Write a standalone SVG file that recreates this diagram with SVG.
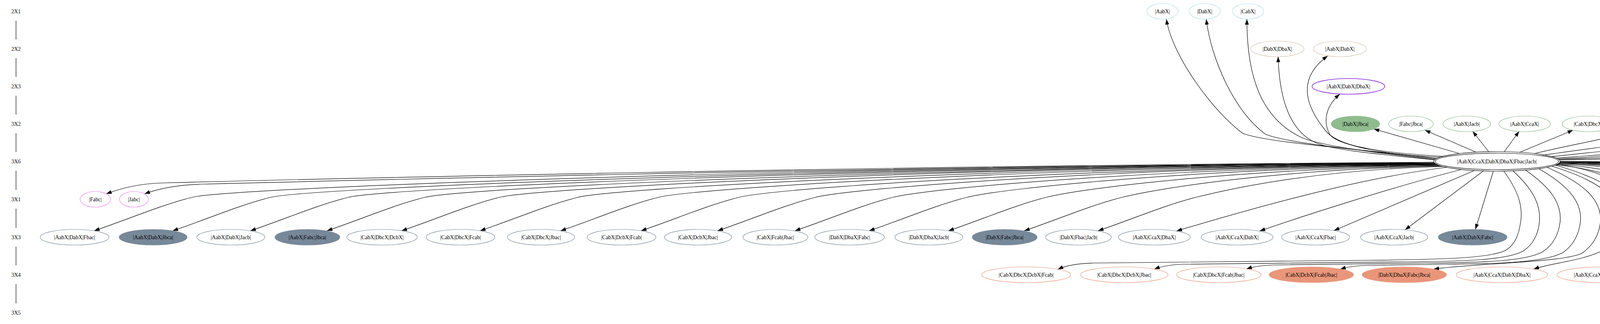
<svg xmlns="http://www.w3.org/2000/svg" width="7445" height="829" viewBox="0 0 7445 829">
<style>
text{font-family:"Liberation Serif","Times New Roman",serif;font-size:14px;text-anchor:middle;fill:#000}
.e{fill:none;stroke-width:1.2}
.pt{stroke:#b0e0e6}
.tn{stroke:#d2c1ad}
.pu{stroke:#8a2be2;stroke-width:1.6}
.g{stroke:#8fbc8f}
.gf{fill:#8fbc8f;stroke:#8fbc8f}
.v{stroke:#ee82ee}
.s{stroke:#778899}
.sf{fill:#778899;stroke:#778899}
.o{stroke:#e9967a}
.of{fill:#e9967a;stroke:#e9967a}
.k{stroke:#f0e68c}
.kf{fill:#f0e68c;stroke:#f0e68c}
.c{stroke:#000}
#edges path{fill:none;stroke:#000;stroke-width:1.2;marker-end:url(#arr)}
#ranks line{stroke:#000;stroke-width:1.2}
</style>
<defs>
<marker id="arr" markerUnits="userSpaceOnUse" markerWidth="14" markerHeight="10" refX="14" refY="5" orient="auto"><path d="M0,0 L14,5 L0,10 z" fill="#000"/></marker>
</defs>
<rect width="7445" height="829" fill="#fff"/>
<g id="ranks">
<text x="41" y="34">2X1</text>
<text x="41" y="130">2X2</text>
<text x="41" y="226">2X3</text>
<text x="41" y="322">3X2</text>
<text x="41" y="418">3X6</text>
<text x="41" y="515">3X1</text>
<text x="41" y="612">3X3</text>
<text x="41" y="708">3X4</text>
<text x="41" y="805">3X5</text>
<line x1="41" y1="53" x2="41" y2="101"/>
<line x1="41" y1="149" x2="41" y2="197"/>
<line x1="41" y1="245" x2="41" y2="293"/>
<line x1="41" y1="341" x2="41" y2="389"/>
<line x1="41" y1="437" x2="41" y2="486"/>
<line x1="41" y1="534" x2="41" y2="583"/>
<line x1="41" y1="631" x2="41" y2="679"/>
<line x1="41" y1="727" x2="41" y2="776"/>
</g>
<g id="edges">
<path d="M3678,405 C3480,381 3240,365 3181,341 C3100,280 3000,140 2986,49"/>
<path d="M3676,406 C3500,386 3290,366 3239,343 C3160,286 3100,150 3088,49"/>
<path d="M3674,408 C3520,391 3380,373 3330,351 C3230,302 3192,200 3192,49"/>
<path d="M3672,409 C3550,396 3420,386 3370,366 C3300,336 3275,250 3272,145"/>
<path d="M3686,402 C3560,396 3430,378 3395,336 C3340,270 3320,200 3399,143"/>
<path d="M3695,400 C3550,392 3430,375 3405,345 C3385,310 3395,270 3430,241"/>
<path d="M3737,393 L3517,330"/>
<path d="M3778,389 L3648,333"/>
<path d="M3811,388 L3770,336"/>
<path d="M3851,388 L3889,336"/>
<path d="M3890,390 L4027,333"/>
<path d="M3928,393 C4020,370 4120,355 4186,333"/>
<path d="M3950,397 C4100,375 4250,360 4341,333"/>
<path d="M3972,401 C4180,378 4380,362 4492,333"/>
<path d="M3984,404.5 C4250,385 4500,368 4640,333"/>
<path d="M3988,406.5 C4300,390 4620,372 4794,333"/>
<path d="M3991,408 C4380,395 4760,378 4944,333"/>
<path d="M3993,409.5 C4450,400 4900,385 5095,333"/>
<path d="M3671,415 C2200,425 800,458 420,468 C350,470 310,482 272,496"/>
<path d="M3671,416 C2200,427 900,462 520,471 C450,473 405,483 370,496"/>
<path d="M3672,417 C2082,425 591,480 491,505 C411,525 326,562 241,590.5"/>
<path d="M3673,418 C2183,426 792,480 692,505 C612,525 527,562 442,590.5"/>
<path d="M3674,418 C2282,426 991,480 891,505 C811,525 726,562 641,590.5"/>
<path d="M3675,419 C2381,427 1187,480 1087,505 C1007,525 922,562 837,590.5"/>
<path d="M3676,419 C2477,427 1378,480 1278,505 C1198,525 1113,562 1028,590.5"/>
<path d="M3677,420 C2578,428 1579,480 1479,505 C1399,525 1314,562 1229,590.5"/>
<path d="M3678,420 C2682,428 1785,480 1685,505 C1605,525 1520,562 1435,590.5"/>
<path d="M3679,421 C2785,429 1991,480 1891,505 C1811,525 1726,562 1641,590.5"/>
<path d="M3680,421 C2884,429 2187,480 2087,505 C2007,525 1922,562 1837,590.5"/>
<path d="M3682,422 C2984,430 2385,480 2285,505 C2205,525 2120,562 2035,590.5"/>
<path d="M3684,423 C3080,431 2575,480 2475,505 C2395,525 2310,562 2225,590.5"/>
<path d="M3687,424 C3183,432 2778,480 2678,505 C2598,525 2513,562 2428,590.5"/>
<path d="M3690,425 C3281,433 2972,480 2872,505 C2792,525 2707,562 2622,590.5"/>
<path d="M3694,426 C3378,434 3161,480 3061,505 C2981,525 2896,562 2811,590.5"/>
<path d="M3705,428 C3480,455 3200,535 3012,591"/>
<path d="M3740,434 C3560,480 3320,558 3225,591"/>
<path d="M3775,436 L3415,590"/>
<path d="M3798,437 L3597,588"/>
<path d="M3823,438 L3777,587"/>
<path d="M3850,438 C3880,480 3900,520 3893,567 C3888,600 3880,625 3855,640 C3820,660 3700,664 3500,666 L2800,673 C2760,674 2730,679 2708,689"/>
<path d="M3873,437 C3920,480 3945,520 3941,567 C3938,600 3925,625 3900,642 C3860,665 3750,669 3600,670 L3030,676 C3000,677 2975,681 2955,688.5"/>
<path d="M3905,435 C3970,480 3998,520 3994,567 C3990,600 3975,628 3948,645 C3905,668 3800,672 3650,673 L3260,678 C3230,679 3210,682 3191,688"/>
<path d="M3940,432 C4020,478 4050,520 4046,567 C4042,600 4028,628 4000,647 C3955,670 3850,675 3700,676 L3500,679 C3470,680 3450,683 3431,688.5"/>
<path d="M3960,428 C4070,475 4100,520 4097,567 C4094,600 4078,628 4050,648 C4000,672 3780,673 3670,688.6"/>
<path d="M3972,425 C4120,470 4150,520 4147,567 C4144,600 4130,625 4105,640 C4050,668 3975,672 3926,688.5"/>
<path d="M3980,422 C4150,470 4175,520 4171,567 C4168,610 4150,650 4124,683.5"/>
<path d="M3985,420 C4200,450 4290,560 4340,683"/>
<path d="M3982,422 C4200,440 4430,575 4567,683.8"/>
<path d="M3985,421 C4250,432 4602,588 4802,684.7"/>
<path d="M3988,419.5 C4350,428 4784,589 5034,686"/>
<path d="M3990,418.5 C4450,425 4973,593 5273,686"/>
<path d="M3991,418 C4550,423 5168,592 5518,687"/>
<path d="M3992,417 C4650,422 5361,590 5761,688"/>
<path d="M3993,416 C4750,421 5544,589 5994,689"/>
<path d="M3994,413 C4900,415 5950,480 6150,640 C6210,690 6215,720 6170,742 C6100,768 5990,776 5939,785"/>
<path d="M3994,414 C5000,418 5980,470 6160,600 C6230,650 6225,730 6181,780.7"/>
<path d="M3994,414.5 C5100,425 6250,580 6412,780.4"/>
<path d="M3994,415 C5200,425 6400,630 6678,781.4"/>
<path d="M3994,414 C5300,425 6640,630 6964,781.7"/>
<path d="M3994,413.5 C5400,424 6735,649 7235,783"/>
</g>
<g id="AabX"><ellipse class="e pt" cx="2976" cy="29" rx="40" ry="20"/><text x="2976" y="34">|AabX|</text></g>
<g id="DabX"><ellipse class="e pt" cx="3084" cy="29" rx="40" ry="20"/><text x="3084" y="34">|DabX|</text></g>
<g id="CabX"><ellipse class="e pt" cx="3195" cy="29" rx="40" ry="20"/><text x="3195" y="34">|CabX|</text></g>
<g id="DabX_DbaX"><ellipse class="e tn" cx="3270" cy="125" rx="68" ry="20"/><text x="3270" y="130">|DabX|DbaX|</text></g>
<g id="AabX_DabX"><ellipse class="e tn" cx="3430" cy="125" rx="68" ry="20"/><text x="3430" y="130">|AabX|DabX|</text></g>
<g id="AabX_DabX_DbaX"><ellipse class="e pu" cx="3452" cy="221" rx="93" ry="20"/><text x="3452" y="226">|AabX|DabX|DbaX|</text></g>
<g id="DabX_Jbca"><ellipse class="e gf" cx="3470" cy="317" rx="62" ry="20"/><text x="3470" y="322">|DabX|Jbca|</text></g>
<g id="Fabc_Jbca"><ellipse class="e g" cx="3612" cy="317" rx="57" ry="20"/><text x="3612" y="322">|Fabc|Jbca|</text></g>
<g id="AabX_Jacb"><ellipse class="e g" cx="3755" cy="317" rx="61" ry="20"/><text x="3755" y="322">|AabX|Jacb|</text></g>
<g id="AabX_CcaX"><ellipse class="e g" cx="3903" cy="317" rx="66" ry="20"/><text x="3903" y="322">|AabX|CcaX|</text></g>
<g id="CabX_DbcX"><ellipse class="e g" cx="4066" cy="317" rx="67" ry="20"/><text x="4066" y="322">|CabX|DbcX|</text></g>
<g id="CabX_DcbX"><ellipse class="e g" cx="4226" cy="317" rx="67" ry="20"/><text x="4226" y="322">|CabX|DcbX|</text></g>
<g id="CabX_Fcab"><ellipse class="e g" cx="4378" cy="317" rx="62" ry="20"/><text x="4378" y="322">|CabX|Fcab|</text></g>
<g id="CabX_Jbac"><ellipse class="e g" cx="4529" cy="317" rx="61" ry="20"/><text x="4529" y="322">|CabX|Jbac|</text></g>
<g id="DabX_Fabc"><ellipse class="e g" cx="4678" cy="317" rx="63" ry="20"/><text x="4678" y="322">|DabX|Fabc|</text></g>
<g id="DabX_Fbac"><ellipse class="e g" cx="4832" cy="317" rx="63" ry="20"/><text x="4832" y="322">|DabX|Fbac|</text></g>
<g id="AabX_Fabc"><ellipse class="e g" cx="4982" cy="317" rx="63" ry="20"/><text x="4982" y="322">|AabX|Fabc|</text></g>
<g id="DabX_Jacb"><ellipse class="e g" cx="5132" cy="317" rx="62" ry="20"/><text x="5132" y="322">|DabX|Jacb|</text></g>
<g id="AabX_CcaX_DabX_DbaX_Fbac_Jacb"><ellipse class="e c" cx="3832" cy="413" rx="162" ry="25"/><ellipse class="e c" cx="3832" cy="413" rx="158" ry="21"/><text x="3832" y="418">|AabX|CcaX|DabX|DbaX|Fbac|Jacb|</text></g>
<g id="Fabc"><ellipse class="e v" cx="244" cy="510" rx="39" ry="20"/><text x="244" y="515">|Fabc|</text></g>
<g id="Jabc"><ellipse class="e v" cx="343" cy="510" rx="37" ry="20"/><text x="343" y="515">|Jabc|</text></g>
<g id="AabX_DabX_Fbac"><ellipse class="e s" cx="191" cy="607" rx="88" ry="20"/><text x="191" y="612">|AabX|DabX|Fbac|</text></g>
<g id="AabX_DabX_Jbca"><ellipse class="e sf" cx="392" cy="607" rx="87" ry="20"/><text x="392" y="612">|AabX|DabX|Jbca|</text></g>
<g id="AabX_DabX_Jacb"><ellipse class="e s" cx="591" cy="607" rx="87" ry="20"/><text x="591" y="612">|AabX|DabX|Jacb|</text></g>
<g id="AabX_Fabc_Jbca"><ellipse class="e sf" cx="787" cy="607" rx="83" ry="20"/><text x="787" y="612">|AabX|Fabc|Jbca|</text></g>
<g id="CabX_DbcX_DcbX"><ellipse class="e s" cx="978" cy="607" rx="90" ry="20"/><text x="978" y="612">|CabX|DbcX|DcbX|</text></g>
<g id="CabX_DbcX_Fcab"><ellipse class="e s" cx="1179" cy="607" rx="88" ry="20"/><text x="1179" y="612">|CabX|DbcX|Fcab|</text></g>
<g id="CabX_DbcX_Jbac"><ellipse class="e s" cx="1385" cy="607" rx="86" ry="20"/><text x="1385" y="612">|CabX|DbcX|Jbac|</text></g>
<g id="CabX_DcbX_Fcab"><ellipse class="e s" cx="1591" cy="607" rx="88" ry="20"/><text x="1591" y="612">|CabX|DcbX|Fcab|</text></g>
<g id="CabX_DcbX_Jbac"><ellipse class="e s" cx="1787" cy="607" rx="86" ry="20"/><text x="1787" y="612">|CabX|DcbX|Jbac|</text></g>
<g id="CabX_Fcab_Jbac"><ellipse class="e s" cx="1985" cy="607" rx="83" ry="20"/><text x="1985" y="612">|CabX|Fcab|Jbac|</text></g>
<g id="DabX_DbaX_Fabc"><ellipse class="e s" cx="2175" cy="607" rx="89" ry="20"/><text x="2175" y="612">|DabX|DbaX|Fabc|</text></g>
<g id="DabX_DbaX_Jacb"><ellipse class="e s" cx="2378" cy="607" rx="87" ry="20"/><text x="2378" y="612">|DabX|DbaX|Jacb|</text></g>
<g id="DabX_Fabc_Jbca"><ellipse class="e sf" cx="2572" cy="607" rx="83" ry="20"/><text x="2572" y="612">|DabX|Fabc|Jbca|</text></g>
<g id="DabX_Fbac_Jacb"><ellipse class="e s" cx="2761" cy="607" rx="84" ry="20"/><text x="2761" y="612">|DabX|Fbac|Jacb|</text></g>
<g id="AabX_CcaX_DbaX"><ellipse class="e s" cx="2955" cy="607" rx="92" ry="20"/><text x="2955" y="612">|AabX|CcaX|DbaX|</text></g>
<g id="AabX_CcaX_DabX"><ellipse class="e s" cx="3167" cy="607" rx="92" ry="20"/><text x="3167" y="612">|AabX|CcaX|DabX|</text></g>
<g id="AabX_CcaX_Fbac"><ellipse class="e s" cx="3368" cy="607" rx="87" ry="20"/><text x="3368" y="612">|AabX|CcaX|Fbac|</text></g>
<g id="AabX_CcaX_Jacb"><ellipse class="e s" cx="3569" cy="607" rx="86" ry="20"/><text x="3569" y="612">|AabX|CcaX|Jacb|</text></g>
<g id="AabX_DabX_Fabc"><ellipse class="e sf" cx="3770" cy="607" rx="88" ry="20"/><text x="3770" y="612">|AabX|DabX|Fabc|</text></g>
<g id="CabX_DbcX_DcbX_Fcab"><ellipse class="e o" cx="2627" cy="703" rx="114" ry="20"/><text x="2627" y="708">|CabX|DbcX|DcbX|Fcab|</text></g>
<g id="CabX_DbcX_DcbX_Jbac"><ellipse class="e o" cx="2878" cy="703" rx="112" ry="20"/><text x="2878" y="708">|CabX|DbcX|DcbX|Jbac|</text></g>
<g id="CabX_DbcX_Fcab_Jbac"><ellipse class="e o" cx="3120" cy="703" rx="108" ry="20"/><text x="3120" y="708">|CabX|DbcX|Fcab|Jbac|</text></g>
<g id="CabX_DcbX_Fcab_Jbac"><ellipse class="e of" cx="3357" cy="703" rx="108" ry="20"/><text x="3357" y="708">|CabX|DcbX|Fcab|Jbac|</text></g>
<g id="DabX_DbaX_Fabc_Jbca"><ellipse class="e of" cx="3595" cy="703" rx="108" ry="20"/><text x="3595" y="708">|DabX|DbaX|Fabc|Jbca|</text></g>
<g id="AabX_CcaX_DabX_DbaX"><ellipse class="e o" cx="3845" cy="703" rx="117" ry="20"/><text x="3845" y="708">|AabX|CcaX|DabX|DbaX|</text></g>
<g id="AabX_CcaX_DbaX_Fbac"><ellipse class="e o" cx="4099" cy="703" rx="113" ry="20"/><text x="4099" y="708">|AabX|CcaX|DbaX|Fbac|</text></g>
<g id="AabX_CcaX_DbaX_Jacb"><ellipse class="e o" cx="4349" cy="703" rx="112" ry="20"/><text x="4349" y="708">|AabX|CcaX|DbaX|Jacb|</text></g>
<g id="AabX_CcaX_DabX_Fbac"><ellipse class="e o" cx="4599" cy="703" rx="113" ry="20"/><text x="4599" y="708">|AabX|CcaX|DabX|Fbac|</text></g>
<g id="AabX_CcaX_DabX_Jacb"><ellipse class="e o" cx="4847" cy="703" rx="112" ry="20"/><text x="4847" y="708">|AabX|CcaX|DabX|Jacb|</text></g>
<g id="AabX_CcaX_Fbac_Jacb"><ellipse class="e o" cx="5091" cy="703" rx="107" ry="20"/><text x="5091" y="708">|AabX|CcaX|Fbac|Jacb|</text></g>
<g id="AabX_DabX_DbaX_Fabc"><ellipse class="e o" cx="5336" cy="703" rx="115" ry="20"/><text x="5336" y="708">|AabX|DabX|DbaX|Fabc|</text></g>
<g id="AabX_DabX_DbaX_Jacb"><ellipse class="e o" cx="5587" cy="703" rx="113" ry="20"/><text x="5587" y="708">|AabX|DabX|DbaX|Jacb|</text></g>
<g id="AabX_DabX_Fabc_Jbca"><ellipse class="e of" cx="5833" cy="703" rx="108" ry="20"/><text x="5833" y="708">|AabX|DabX|Fabc|Jbca|</text></g>
<g id="AabX_DabX_Fbac_Jacb"><ellipse class="e of" cx="6072" cy="703" rx="108" ry="20"/><text x="6072" y="708">|AabX|DabX|Fbac|Jacb|</text></g>
<g id="AabX_CcaX_DabX_DbaX_Fbac"><ellipse class="e k" cx="5847" cy="800" rx="139" ry="20"/><text x="5847" y="805">|AabX|CcaX|DabX|DbaX|Fbac|</text></g>
<g id="AabX_CcaX_DabX_DbaX_Jacb"><ellipse class="e k" cx="6146" cy="800" rx="137" ry="20"/><text x="6146" y="805">|AabX|CcaX|DabX|DbaX|Jacb|</text></g>
<g id="AabX_CcaX_DbaX_Fbac_Jacb"><ellipse class="e kf" cx="6440" cy="800" rx="133" ry="20"/><text x="6440" y="805">|AabX|CcaX|DbaX|Fbac|Jacb|</text></g>
<g id="AabX_CcaX_DabX_Fbac_Jacb"><ellipse class="e kf" cx="6727" cy="800" rx="133" ry="20"/><text x="6727" y="805">|AabX|CcaX|DabX|Fbac|Jacb|</text></g>
<g id="AabX_DabX_DbaX_Fabc_Jbca"><ellipse class="e kf" cx="7018" cy="800" rx="134" ry="20"/><text x="7018" y="805">|AabX|DabX|DbaX|Fabc|Jbca|</text></g>
<g id="CabX_DbcX_DcbX_Fcab_Jbac"><ellipse class="e kf" cx="7307" cy="800" rx="133" ry="20"/><text x="7307" y="805">|CabX|DbcX|DcbX|Fcab|Jbac|</text></g>
</svg>
